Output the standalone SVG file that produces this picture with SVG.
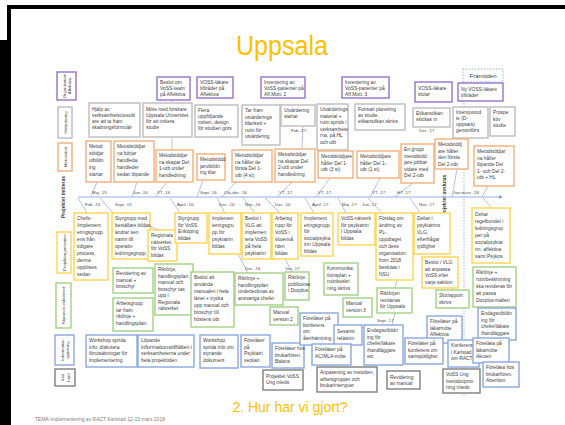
<svg xmlns="http://www.w3.org/2000/svg" width="565" height="425" viewBox="0 0 565 425">
<defs>
<style>
.t{font-family:"Liberation Sans",Arial,sans-serif;font-size:4.9px;fill:#404040}
.d{font-family:"Liberation Sans",Arial,sans-serif;font-size:4.4px;fill:#505050}
.rl{font-family:"Liberation Sans",Arial,sans-serif;font-size:4.3px;fill:#404040;text-anchor:middle}
.rb{font-family:"Liberation Sans",Arial,sans-serif;font-size:5px;font-weight:bold;fill:#404040;text-anchor:middle}
rect{fill:#fff;stroke-width:1.4}
.pu{stroke:#9673C8}
.gr{stroke:#BDBDBD}
.or{stroke:#F6AE78}
.ye{stroke:#FFD34E}
.gn{stroke:#A2CF85}
.bl{stroke:#8AA7DC}
.dg{stroke:#7F7F7F}
.c line,.c path{stroke:#9DB5E0;stroke-width:0.8;fill:none}
</style>
<marker id="ah" viewBox="0 0 6 6" refX="5" refY="3" markerWidth="4" markerHeight="4" orient="auto"><path d="M0,0L6,3L0,6Z" fill="#6F93D6"/></marker>
</defs>
<rect x="0" y="0" width="565" height="425" style="fill:#fff;stroke:none"/>
<rect x="7" y="5" width="558" height="4" style="fill:#000;stroke:none"/>
<rect x="7" y="5" width="4" height="420" style="fill:#000;stroke:none"/>
<rect x="0" y="40" width="10" height="385" style="fill:#000;stroke:none"/>

<text x="282" y="55" text-anchor="middle" style="font-family:'Liberation Sans',Arial,sans-serif;font-size:27px;fill:#FFC000" textLength="92" lengthAdjust="spacingAndGlyphs">Uppsala</text>
<text x="290" y="412" text-anchor="middle" style="font-family:'Liberation Sans',Arial,sans-serif;font-size:14px;fill:#FFC000">2. Hur har vi gjort?</text>
<text x="35" y="421" style="font-family:'Liberation Sans',Arial,sans-serif;font-size:5px;fill:#808080">TEMA Implementering av RACT Karlstad 12-13 mars 2018</text>

<g id="row-labels">
<rect class="pu" x="57" y="72" width="19" height="28"/>
<text class="rl" transform="translate(66.5,86) rotate(-90)"><tspan x="0" y="-1">Organisation</tspan><tspan x="0" y="4.5">Affektiva</tspan></text>
<rect class="gr" x="58" y="107" width="14" height="31"/>
<text class="rl" transform="translate(66.5,122.5) rotate(-90)">Utvärdering</text>
<rect class="or" x="58" y="143" width="14" height="28"/>
<text class="rl" transform="translate(66.5,157) rotate(-90)">Metodstöd</text>
<text class="rb" transform="translate(65,197) rotate(-90)">Projektet initieras</text>
<rect class="ye" x="57" y="232" width="14" height="41"/>
<text class="rl" transform="translate(65.5,252.5) rotate(-90)">Projektorganisation</text>
<rect class="gn" x="56" y="283" width="15" height="45"/>
<text class="rl" transform="translate(65,305.5) rotate(-90)">Styrande dokument</text>
<rect class="bl" x="55" y="335" width="19" height="30"/>
<text class="rl" transform="translate(64.5,350) rotate(-90)"><tspan x="0" y="-1">Information</tspan><tspan x="0" y="4.5">spridning</tspan></text>
<rect class="dg" x="55" y="369" width="20" height="17"/>
<text class="rl" transform="translate(65,377.5) rotate(-90)"><tspan x="0" y="-1">Vad</tspan><tspan x="0" y="4.5">hänt</tspan></text>
<text class="rb" transform="translate(446,196) rotate(-90)">Projektet avslutas</text>
</g>

<g id="connectors" class="c">
<line x1="464" y1="82" x2="464" y2="396" style="stroke:#8AA7DC;stroke-dasharray:1.5,1.5"/>
<line x1="78" y1="197" x2="502" y2="197" style="stroke:#8AA7DC;stroke-width:0.9" marker-end="url(#ah)"/>
<line x1="172" y1="100" x2="172" y2="103"/>
<line x1="172" y1="137" x2="172" y2="150"/>
<line x1="303" y1="126" x2="302" y2="149"/>
<line x1="97" y1="182" x2="91" y2="197"/>
<line x1="137" y1="182" x2="132" y2="197"/>
<line x1="167" y1="182" x2="155" y2="197"/>
<line x1="203" y1="180" x2="197" y2="197"/>
<line x1="236" y1="182" x2="222" y2="197"/>
<line x1="292" y1="182" x2="277" y2="197"/>
<line x1="330" y1="178" x2="316" y2="197"/>
<line x1="380" y1="178" x2="370" y2="197"/>
<line x1="413" y1="183" x2="395" y2="197"/>
<line x1="457" y1="169" x2="452" y2="197"/>
<line x1="488" y1="186" x2="482" y2="197"/>
<line x1="78" y1="198" x2="87" y2="213"/>
<line x1="100" y1="198" x2="113" y2="213"/>
<line x1="150" y1="226" x2="160" y2="231"/>
<line x1="170" y1="198" x2="180" y2="213"/>
<line x1="217" y1="198" x2="225" y2="213"/>
<line x1="243" y1="198" x2="255" y2="213"/>
<line x1="265" y1="198" x2="280" y2="213"/>
<line x1="305" y1="198" x2="314" y2="213"/>
<line x1="338" y1="198" x2="346" y2="213"/>
<line x1="368" y1="198" x2="382" y2="213"/>
<line x1="410" y1="198" x2="420" y2="213"/>
<line x1="483" y1="198" x2="492" y2="208"/>
<line x1="238" y1="254" x2="248" y2="273"/>
<line x1="285" y1="259" x2="292" y2="272"/>
<line x1="397" y1="280" x2="395" y2="288"/>
<line x1="395" y1="313" x2="392" y2="325"/>
</g>

<g id="dates">
<text class="d" x="92" y="194">Maj -15</text>
<text class="d" x="133" y="194">Jan -16</text>
<text class="d" x="157" y="194">VT -16</text>
<text class="d" x="200" y="194">Sept -16</text>
<text class="d" x="224" y="194">Okt-dec -16</text>
<text class="d" x="279" y="194">VT -17</text>
<text class="d" x="318" y="194">VT -17</text>
<text class="d" x="372" y="194">VT -17</text>
<text class="d" x="397" y="194">HT -17</text>
<text class="d" x="453" y="194">Jan-mars -18</text>
<text class="d" x="85" y="206">Feb -15</text>
<text class="d" x="115" y="206">Sept -15</text>
<text class="d" x="177" y="206">April -16</text>
<text class="d" x="219" y="206">Dec -16</text>
<text class="d" x="245" y="206">Nov -16</text>
<text class="d" x="275" y="206">Dec -16</text>
<text class="d" x="312" y="206">April -17</text>
<text class="d" x="342" y="206">Maj -17</text>
<text class="d" x="362" y="206">Jun -17</text>
<text class="d" x="419" y="206">Nov -17</text>
<text class="d" x="291" y="132">Feb -17</text>
<text class="d" x="419" y="132">Dec -17</text>
<text class="d" x="245" y="270">Dec -16</text>
<text class="d" x="285" y="270">Jan -17</text>
<text class="d" x="377" y="322">Sept -17</text>
</g>

<!-- Organisation -->
<g id="a1"><rect class="pu" x="157" y="77" width="33" height="23"/><text class="t"><tspan x="160" y="84">Beslut om</tspan><tspan x="160" y="90">VoSS-team</tspan><tspan x="160" y="96">på Affektiva</tspan></text></g>
<g id="a2"><rect class="pu" x="197" y="77" width="36" height="21"/><text class="t"><tspan x="200" y="83.5">VOSS-läkare</tspan><tspan x="200" y="89.5">tillträder på</tspan><tspan x="200" y="95.5">Affektiva</tspan></text></g>
<g id="a3"><rect class="pu" x="261" y="77" width="44" height="21"/><text class="t"><tspan x="264" y="83.5">Inventering av</tspan><tspan x="264" y="89.5">VoSS-patienter på</tspan><tspan x="264" y="95.5">Aff.Mott. 2</tspan></text></g>
<g id="a4"><rect class="pu" x="342" y="77" width="47" height="21"/><text class="t"><tspan x="345" y="83.5">Inventering av</tspan><tspan x="345" y="89.5">VoSS-patienter på</tspan><tspan x="345" y="95.5">Aff.Mott. 3</tspan></text></g>
<g id="a5"><rect class="pu" x="415" y="82" width="37" height="20"/><text class="t"><tspan x="418" y="90">VOSS-läkare</tspan><tspan x="418" y="96">slutar</tspan></text></g>
<g id="a6"><rect class="pu" x="458" y="83" width="45" height="18"/><text class="t"><tspan x="461" y="90.5">Ny VOSS-läkare</tspan><tspan x="461" y="96.5">tillträder</tspan></text></g>
<g id="framtiden"><rect x="463" y="69" width="40" height="13" style="stroke:#8AA7DC;stroke-dasharray:1.5,1.5;stroke-width:0.9"/><text x="483" y="78" text-anchor="middle" style="font-family:'Liberation Sans',Arial,sans-serif;font-size:6px;fill:#404040">Framtiden</text></g>

<!-- Utvärdering -->
<g id="u1"><rect class="gr" x="89" y="103" width="51" height="34"/><text class="t"><tspan x="92" y="111">Hjälp av</tspan><tspan x="92" y="117">verksamhetsutveckl</tspan><tspan x="92" y="123">are att ta fram</tspan><tspan x="92" y="129">skattningsformulär</tspan></text></g>
<g id="u2"><rect class="gr" x="143" y="103" width="49" height="34"/><text class="t"><tspan x="146" y="111">Möte med forskare</tspan><tspan x="146" y="117">Uppsala Universitet</tspan><tspan x="146" y="123">för att initiera</tspan><tspan x="146" y="129">studie</tspan></text></g>
<g id="u3"><rect class="gr" x="195" y="105" width="43" height="32"/><text class="t"><tspan x="198" y="112">Flera</tspan><tspan x="198" y="118">uppföljande</tspan><tspan x="198" y="124">möten, design</tspan><tspan x="198" y="130">för studien görs</tspan></text></g>
<g id="u4"><rect class="gr" x="242" y="105" width="38" height="40"/><text class="t"><tspan x="245" y="112">Tar fram</tspan><tspan x="245" y="118.5">utvärderings</tspan><tspan x="245" y="125">blankett +</tspan><tspan x="245" y="131.5">rutin för</tspan><tspan x="245" y="138">utvärdering</tspan></text></g>
<g id="u5"><rect class="gr" x="281" y="105" width="34" height="21"/><text class="t"><tspan x="284" y="112">Utvärdering</tspan><tspan x="284" y="118">startar</tspan></text></g>
<g id="u6"><rect class="gr" x="317" y="104" width="31" height="46"/><text class="t"><tspan x="320" y="111">Utvärderings</tspan><tspan x="320" y="117.5">material +</tspan><tspan x="320" y="124">rutin sprids i</tspan><tspan x="320" y="130.5">verksamhete</tspan><tspan x="320" y="137">rna, på HL</tspan><tspan x="320" y="143.5">och utb</tspan></text></g>
<g id="u7"><rect class="gr" x="355" y="104" width="50" height="26"/><text class="t"><tspan x="358" y="111">Fortsatt planering</tspan><tspan x="358" y="117">av studie,</tspan><tspan x="358" y="123">etikansökan skrivs</tspan></text></g>
<g id="u8"><rect class="gr" x="413" y="108" width="37" height="19"/><text class="t"><tspan x="416" y="115">Etikansökan</tspan><tspan x="416" y="121">skickas in</tspan></text></g>
<g id="u9"><rect class="gr" x="453" y="107" width="35" height="31"/><text class="t"><tspan x="456" y="114">Intervjustud</tspan><tspan x="456" y="120">ie (D-</tspan><tspan x="456" y="126">uppsats)</tspan><tspan x="456" y="132">genomförs</tspan></text></g>
<g id="u10"><rect class="gr" x="490" y="107" width="25" height="29"/><text class="t"><tspan x="493" y="114">Prospe</tspan><tspan x="493" y="120.5">ktiv</tspan><tspan x="493" y="127">studie</tspan></text></g>

<!-- Metodstöd -->
<g id="m1"><rect class="or" x="86" y="141" width="25" height="41"/><text class="t"><tspan x="89" y="148">Metod</tspan><tspan x="89" y="155">stödjar</tspan><tspan x="89" y="162">utbildn</tspan><tspan x="89" y="169">ing</tspan><tspan x="89" y="176">startar</tspan></text></g>
<g id="m2"><rect class="or" x="114" y="141" width="40" height="41"/><text class="t"><tspan x="117" y="148">Metodstödjar</tspan><tspan x="117" y="155">na börjar</tspan><tspan x="117" y="162">handleda,</tspan><tspan x="117" y="169">handleder</tspan><tspan x="117" y="176">sedan löpande</tspan></text></g>
<g id="m3"><rect class="or" x="156" y="150" width="37" height="32"/><text class="t"><tspan x="159" y="157">Metodstödjar</tspan><tspan x="159" y="163.5">na skapar Del</tspan><tspan x="159" y="170">1-utb under</tspan><tspan x="159" y="176.5">handledning</tspan></text></g>
<g id="m4"><rect class="or" x="197" y="154" width="28" height="26"/><text class="t"><tspan x="200" y="161">Metodstödd</tspan><tspan x="200" y="167.5">jarutbildn</tspan><tspan x="200" y="174">ing klar</tspan></text></g>
<g id="m5"><rect class="or" x="232" y="150" width="40" height="32"/><text class="t"><tspan x="235" y="157">Metodstödjar</tspan><tspan x="235" y="163.5">na håller de</tspan><tspan x="235" y="170">första Del 1-</tspan><tspan x="235" y="176.5">utb (4 st)</tspan></text></g>
<g id="m6"><rect class="or" x="275" y="149" width="40" height="33"/><text class="t"><tspan x="278" y="156">Metodstödjar</tspan><tspan x="278" y="162.5">na skapar Del</tspan><tspan x="278" y="169">2-utb under</tspan><tspan x="278" y="175.5">handledning</tspan></text></g>
<g id="m7"><rect class="or" x="318" y="151" width="35" height="27"/><text class="t"><tspan x="321" y="158">Metodstödjare</tspan><tspan x="321" y="164.5">håller Del 1-</tspan><tspan x="321" y="171">utb (3 st)</tspan></text></g>
<g id="m8"><rect class="or" x="357" y="151" width="42" height="27"/><text class="t"><tspan x="360" y="158">Metodstödjare</tspan><tspan x="360" y="164.5">håller Del 1-</tspan><tspan x="360" y="171">utb (1 st)</tspan></text></g>
<g id="m9"><rect class="or" x="401" y="144" width="33" height="39"/><text class="t"><tspan x="404" y="151">En grupp</tspan><tspan x="404" y="157.5">metodstöd</tspan><tspan x="404" y="164">jare jobbar</tspan><tspan x="404" y="170.5">vidare med</tspan><tspan x="404" y="177">Del 2-utb</tspan></text></g>
<g id="m10"><rect class="or" x="435" y="139" width="33" height="30"/><text class="t"><tspan x="438" y="146">Metodstödj</tspan><tspan x="438" y="152.5">are håller</tspan><tspan x="438" y="159">den första</tspan><tspan x="438" y="165.5">Del 2-utb</tspan></text></g>
<g id="m11"><rect class="or" x="474" y="146" width="40" height="40"/><text class="t"><tspan x="477" y="153">Metodstödjar</tspan><tspan x="477" y="159.5">na håller</tspan><tspan x="477" y="166">löpande Del</tspan><tspan x="477" y="172.5">1- och Del 2-</tspan><tspan x="477" y="179">utb + HL</tspan></text></g>

<!-- Projektorganisation -->
<g id="p1"><rect class="ye" x="74" y="213" width="34" height="67"/><text class="t"><tspan x="77" y="220">Chefs-</tspan><tspan x="77" y="227">/implement</tspan><tspan x="77" y="234">eringsgrupp</tspan><tspan x="77" y="241">ens från</tspan><tspan x="77" y="248">tidigare</tspan><tspan x="77" y="255">process,</tspan><tspan x="77" y="262">denna</tspan><tspan x="77" y="269">upplöses</tspan><tspan x="77" y="276">sedan</tspan></text></g>
<g id="p2"><rect class="ye" x="112" y="213" width="38" height="46"/><text class="t"><tspan x="115" y="220">Styrgrupp med</tspan><tspan x="115" y="227">beställare bildas,</tspan><tspan x="115" y="234">ändrar sen</tspan><tspan x="115" y="241">namn till</tspan><tspan x="115" y="248">operativ</tspan><tspan x="115" y="255">ledningsgrupp</tspan></text></g>
<g id="p3"><rect class="ye" x="148" y="230" width="29" height="31"/><text class="t"><tspan x="151" y="237">Regionala</tspan><tspan x="151" y="243.5">nätverket</tspan><tspan x="151" y="250">för VoSS</tspan><tspan x="151" y="256.5">bildas</tspan></text></g>
<g id="p4"><rect class="ye" x="175" y="213" width="32" height="30"/><text class="t"><tspan x="178" y="220">Styrgrupp</tspan><tspan x="178" y="226.5">för VoSS</tspan><tspan x="178" y="233">Enköping</tspan><tspan x="178" y="239.5">bildas</tspan></text></g>
<g id="p5"><rect class="ye" x="209" y="213" width="32" height="41"/><text class="t"><tspan x="212" y="220">Implemen</tspan><tspan x="212" y="227">teringsgru</tspan><tspan x="212" y="234">pp för</tspan><tspan x="212" y="241">psykiatrin</tspan><tspan x="212" y="248">bildas</tspan></text></g>
<g id="p6"><rect class="ye" x="242" y="213" width="29" height="46"/><text class="t"><tspan x="245" y="220">Beslut i</tspan><tspan x="245" y="227">VLG att</tspan><tspan x="245" y="234">implemen</tspan><tspan x="245" y="241">tera VoSS</tspan><tspan x="245" y="248">på hela</tspan><tspan x="245" y="255">psykiatrin</tspan></text></g>
<g id="p7"><rect class="ye" x="272" y="213" width="26" height="46"/><text class="t"><tspan x="275" y="220">Arbetsg</tspan><tspan x="275" y="227">rupp för</tspan><tspan x="275" y="234">VoSS i</tspan><tspan x="275" y="241">slutenvå</tspan><tspan x="275" y="248">rden</tspan><tspan x="275" y="255">bildas</tspan></text></g>
<g id="p8"><rect class="ye" x="301" y="213" width="32" height="43"/><text class="t"><tspan x="304" y="220">Implement</tspan><tspan x="304" y="226.5">eringsgrupp</tspan><tspan x="304" y="233">för</tspan><tspan x="304" y="239.5">socialpsykia</tspan><tspan x="304" y="246">trin Uppsala</tspan><tspan x="304" y="252.5">bildas</tspan></text></g>
<g id="p9"><rect class="ye" x="338" y="213" width="37" height="32"/><text class="t"><tspan x="341" y="220">VoSS-nätverk</tspan><tspan x="341" y="226.5">för psykiatrin</tspan><tspan x="341" y="233">i Uppsala</tspan><tspan x="341" y="239.5">bildas</tspan></text></g>
<g id="p10"><rect class="ye" x="376" y="213" width="37" height="67"/><text class="t"><tspan x="379" y="220">Förslag om</tspan><tspan x="379" y="227">ändring av</tspan><tspan x="379" y="234">PL-</tspan><tspan x="379" y="241">uppdraget</tspan><tspan x="379" y="248">och dess</tspan><tspan x="379" y="255">organisation</tspan><tspan x="379" y="262">from 2018</tspan><tspan x="379" y="269">beslutas i</tspan><tspan x="379" y="276">NSU</tspan></text></g>
<g id="p11"><rect class="ye" x="414" y="213" width="36" height="41"/><text class="t"><tspan x="417" y="220">Deltar i</tspan><tspan x="417" y="227">psykiatrins</tspan><tspan x="417" y="234">VLG,</tspan><tspan x="417" y="241">efterfrågar</tspan><tspan x="417" y="248">tydlighet</tspan></text></g>
<g id="p12"><rect class="ye" x="422" y="257" width="36" height="31"/><text class="t"><tspan x="425" y="264">Beslut i VLG</tspan><tspan x="425" y="270.5">att anpassa</tspan><tspan x="425" y="277">VoSS efter</tspan><tspan x="425" y="283.5">varje sektion</tspan></text></g>
<g id="p13"><rect class="ye" x="472" y="208" width="38" height="55"/><text class="t"><tspan x="475" y="216">Deltar</tspan><tspan x="475" y="223">regelbundet i</tspan><tspan x="475" y="230">ledningsgrup</tspan><tspan x="475" y="237">per på</tspan><tspan x="475" y="244">socialpsykiat</tspan><tspan x="475" y="251">rin, affektiva</tspan><tspan x="475" y="258">samt Psykos</tspan></text></g>

<!-- Styrande dokument -->
<g id="s1"><rect class="gn" x="113" y="268" width="40" height="25"/><text class="t"><tspan x="116" y="275">Revidering av</tspan><tspan x="116" y="281.5">manual +</tspan><tspan x="116" y="288">broschyr</tspan></text></g>
<g id="s2"><rect class="gn" x="113" y="298" width="40" height="33"/><text class="t"><tspan x="116" y="305">Arbetsgrupp</tspan><tspan x="116" y="311.5">tar fram</tspan><tspan x="116" y="318">riktlinje +</tspan><tspan x="116" y="324.5">handlingsplan</tspan></text></g>
<g id="s3"><rect class="gn" x="155" y="264" width="38" height="51"/><text class="t"><tspan x="158" y="271">Riktlinje,</tspan><tspan x="158" y="277.5">handlingsplan,</tspan><tspan x="158" y="284">manual och</tspan><tspan x="158" y="290.5">broschyr tas</tspan><tspan x="158" y="297">upp i</tspan><tspan x="158" y="303.5">Regionala</tspan><tspan x="158" y="310">nätverket</tspan></text></g>
<g id="s4"><rect class="gn" x="191" y="272" width="43" height="55"/><text class="t"><tspan x="194" y="279">Beslut att</tspan><tspan x="194" y="286">använda</tspan><tspan x="194" y="293">manualen i hela</tspan><tspan x="194" y="300">länet + trycka</tspan><tspan x="194" y="307">upp manual och</tspan><tspan x="194" y="314">broschyr till</tspan><tspan x="194" y="321">höstens utb</tspan></text></g>
<g id="s5"><rect class="gn" x="235" y="273" width="48" height="32"/><text class="t"><tspan x="238" y="280">Riktlinje +</tspan><tspan x="238" y="286.5">handlingsplan</tspan><tspan x="238" y="293">undertecknas av</tspan><tspan x="238" y="299.5">ansvariga chefer</tspan></text></g>
<g id="s6"><rect class="gn" x="285" y="272" width="24" height="28"/><text class="t"><tspan x="288" y="279">Riktlinje</tspan><tspan x="288" y="285.5">publiceras</tspan><tspan x="288" y="292">i Docplus</tspan></text></g>
<g id="s7"><rect class="gn" x="270" y="307" width="28" height="18"/><text class="t"><tspan x="273" y="314">Manual</tspan><tspan x="273" y="320.5">version 2</tspan></text></g>
<g id="s8"><rect class="gn" x="324" y="263" width="34" height="32"/><text class="t"><tspan x="327" y="270">Kommunika</tspan><tspan x="327" y="276.5">tionsplan +</tspan><tspan x="327" y="283">rutinbeskri</tspan><tspan x="327" y="289.5">ning skrivs</tspan></text></g>
<g id="s9"><rect class="gn" x="343" y="298" width="29" height="19"/><text class="t"><tspan x="346" y="305">Manual</tspan><tspan x="346" y="311.5">version 3</tspan></text></g>
<g id="s10"><rect class="gn" x="377" y="288" width="35" height="25"/><text class="t"><tspan x="380" y="295">Riktlinjen</tspan><tspan x="380" y="301.5">revideras</tspan><tspan x="380" y="308">för Uppsala</tspan></text></g>
<g id="s11"><rect class="gn" x="436" y="290" width="33" height="18"/><text class="t"><tspan x="439" y="297">Slutrapport</tspan><tspan x="439" y="303.5">skrivs</tspan></text></g>
<g id="s12"><rect class="gn" x="473" y="267" width="43" height="40"/><text class="t"><tspan x="476" y="274">Riktlinje +</tspan><tspan x="476" y="281">rutinbeskrivning</tspan><tspan x="476" y="288">ska revideras för</tspan><tspan x="476" y="295">att passa</tspan><tspan x="476" y="302">Docplus-mallen</tspan></text></g>

<!-- Informationsspridning -->
<g id="i1"><rect class="bl" x="86" y="335" width="51" height="32"/><text class="t"><tspan x="89" y="342">Workshop sprida</tspan><tspan x="89" y="348.5">info, diskutera</tspan><tspan x="89" y="355">förutsättningar för</tspan><tspan x="89" y="361.5">implementering</tspan></text></g>
<g id="i2"><rect class="bl" x="138" y="335" width="56" height="32"/><text class="t"><tspan x="141" y="342">Löpande</tspan><tspan x="141" y="348.5" textLength="51" lengthAdjust="spacingAndGlyphs">informationstillfällen i</tspan><tspan x="141" y="355">verksamheterna under</tspan><tspan x="141" y="361.5">hela projekttiden</tspan></text></g>
<g id="i3"><rect class="bl" x="200" y="335" width="38" height="33"/><text class="t"><tspan x="203" y="342">Workshop</tspan><tspan x="203" y="348.5">sprida info om</tspan><tspan x="203" y="355">styrande</tspan><tspan x="203" y="361.5">dokument</tspan></text></g>
<g id="i4"><rect class="bl" x="241" y="335" width="29" height="32"/><text class="t"><tspan x="244" y="342">Föreläser</tspan><tspan x="244" y="348.5">på</tspan><tspan x="244" y="355">Psykiatri</tspan><tspan x="244" y="361.5">veckan</tspan></text></g>
<g id="i5"><rect class="bl" x="272" y="343" width="32" height="25"/><text class="t"><tspan x="275" y="350">Föreläser hos</tspan><tspan x="275" y="356.5">brukarfören.</tspan><tspan x="275" y="363">Balans</tspan></text></g>
<g id="i6"><rect class="bl" x="300" y="313" width="38" height="32"/><text class="t"><tspan x="303" y="320">Föreläser på</tspan><tspan x="303" y="326.5">konferens</tspan><tspan x="303" y="333">om</tspan><tspan x="303" y="339.5">återhämtning</tspan></text></g>
<g id="i7"><rect class="bl" x="334" y="325" width="28" height="20"/><text class="t"><tspan x="337" y="333">Sesamti</tspan><tspan x="337" y="339.5">reläsnin</tspan></text></g>
<g id="i8"><rect class="bl" x="312" y="344" width="39" height="21"/><text class="t"><tspan x="315" y="351">Föreläser på</tspan><tspan x="315" y="357.5">AC/MLA-möte</tspan></text></g>
<g id="i9"><rect class="bl" x="364" y="325" width="39" height="40"/><text class="t"><tspan x="367" y="332">Endagsutbildn</tspan><tspan x="367" y="338.5">ing för</tspan><tspan x="367" y="345">chefer/läkare</tspan><tspan x="367" y="351.5">/handläggare</tspan><tspan x="367" y="358">etc</tspan></text></g>
<g id="i10"><rect class="bl" x="427" y="316" width="35" height="27"/><text class="t"><tspan x="430" y="323">Föreläser på</tspan><tspan x="430" y="329.5">läkarmöte</tspan><tspan x="430" y="336">Affektiva</tspan></text></g>
<g id="i11"><rect class="bl" x="405" y="338" width="38" height="26"/><text class="t"><tspan x="408" y="345">Föreläser på</tspan><tspan x="408" y="351.5">konferens om</tspan><tspan x="408" y="358">samsjuklighet</tspan></text></g>
<g id="i12"><rect class="bl" x="448" y="340" width="31" height="27"/><text class="t"><tspan x="451" y="347">Konferens</tspan><tspan x="451" y="353.5">i Karlstad</tspan><tspan x="451" y="360">om RACT</tspan></text></g>
<g id="i13"><rect class="bl" x="478" y="308" width="38" height="32"/><text class="t"><tspan x="481" y="315">Endagsutbildn</tspan><tspan x="481" y="321.5">ing för</tspan><tspan x="481" y="328">chefer/läkare</tspan><tspan x="481" y="334.5">/handläggare</tspan></text></g>
<g id="i14"><rect class="bl" x="473" y="338" width="36" height="25"/><text class="t"><tspan x="476" y="345">Föreläsa på</tspan><tspan x="476" y="351.5">läkarmöte</tspan><tspan x="476" y="358">Akuten</tspan></text></g>
<g id="i15"><rect class="bl" x="483" y="362" width="36" height="25"/><text class="t"><tspan x="486" y="369">Föreläsa hos</tspan><tspan x="486" y="375.5">brukarfören.</tspan><tspan x="486" y="382">Attention</tspan></text></g>

<!-- Vad hänt -->
<g id="v1"><rect class="dg" x="263" y="370" width="40" height="20"/><text class="t"><tspan x="266" y="377.5">Projektet VoSS</tspan><tspan x="266" y="384">Ung inleds</tspan></text></g>
<g id="v2"><rect class="dg" x="317" y="367" width="60" height="25"/><text class="t"><tspan x="320" y="374">Anpassning av metoden,</tspan><tspan x="320" y="380.5">arbetsgrupper och</tspan><tspan x="320" y="387">brukarintervjuer</tspan></text></g>
<g id="v3"><rect class="dg" x="387" y="371" width="33" height="18"/><text class="t"><tspan x="390" y="378.5">Revidering</tspan><tspan x="390" y="385">av manual</tspan></text></g>
<g id="v4"><rect class="dg" x="443" y="369" width="37" height="24"/><text class="t"><tspan x="446" y="376">VoSS Ung</tspan><tspan x="446" y="382.5">metodutprov</tspan><tspan x="446" y="389">ning inleds</tspan></text></g>
</svg>
